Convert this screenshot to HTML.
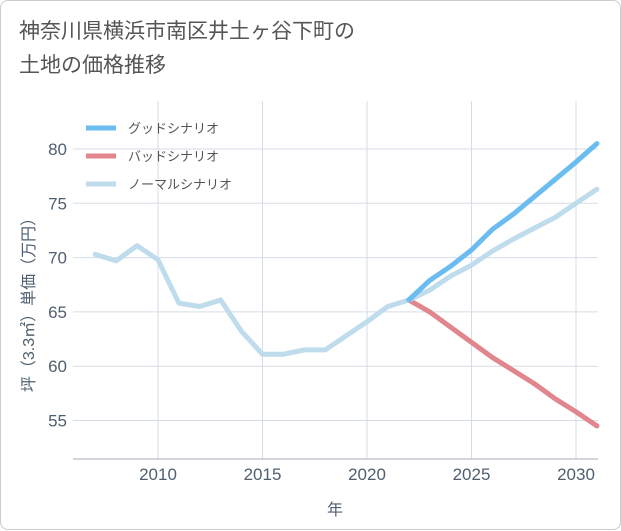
<!DOCTYPE html>
<html><head><meta charset="utf-8">
<style>
body{margin:0;background:#fff;font-family:"Liberation Sans","Noto Sans CJK JP",sans-serif;}
#card{position:absolute;left:0;top:0;width:619px;height:528px;border:1px solid #ccc;border-radius:8px;background:#fff;}
#title{position:absolute;left:18px;top:14px;font-size:21px;line-height:34px;color:#555;}
</style></head><body>
<div id="card">
<div id="title">神奈川県横浜市南区井土ヶ谷下町の<br>土地の価格推移</div>
<svg id="chart" width="621" height="530" style="position:absolute;left:0;top:0"></svg>
</div>
<script>
const years=[2007,2008,2009,2010,2011,2012,2013,2014,2015,2016,2017,2018,2019,2020,2021,2022,2023,2024,2025,2026,2027,2028,2029,2030,2031];
const normal=[70.3,69.7,71.1,69.8,65.8,65.5,66.1,63.2,61.1,61.1,61.5,61.5,62.8,64.1,65.5,66.1,67.0,68.3,69.3,70.6,71.7,72.7,73.7,75.0,76.3];
const futureYears=[2022,2023,2024,2025,2026,2027,2028,2029,2030,2031];
const good=[66.1,67.9,69.2,70.7,72.6,74.0,75.6,77.2,78.8,80.5];
const bad=[66.1,65.0,63.6,62.2,60.8,59.6,58.4,57.0,55.8,54.5];
const xTicks=[2010,2015,2020,2025,2030];
const yTicks=[55,60,65,70,75,80];
const legendLabels=['グッドシナリオ','バッドシナリオ','ノーマルシナリオ'];
const colors=['#6bbcf0','#e0868c','#bfdcec'];
const L=72,R=597,T=100,B=458;
const x=v=>157+(v-2010)*20.9;
const y=v=>148+(80-v)*10.86;
const svg=document.getElementById('chart');
const NS='http://www.w3.org/2000/svg';
function mk(t,a,p){const e=document.createElementNS(NS,t);for(const k in a)e.setAttribute(k,a[k]);(p||svg).appendChild(e);return e;}
xTicks.forEach(t=>{
 const l=mk('line',{x1:x(t),x2:x(t),y1:T,y2:B,stroke:'#d5dde6'});
 
 
 const tx=mk('text',{x:x(t),y:479,'text-anchor':'middle','font-size':17,fill:'#4f5f70'});tx.textContent=t;
 
 
});
yTicks.forEach(t=>{
 const l=mk('line',{x1:L,x2:R,y1:y(t),y2:y(t),stroke:'#d5dde6'});
 
 
 const tx=mk('text',{x:66,y:y(t)+6,'text-anchor':'end','font-size':17,fill:'#4f5f70'});tx.textContent=t;
 
 
});
const ax=mk('line',{x1:L,x2:R,y1:B,y2:B,stroke:'#aab'});


function line(xs,vs,c,name){const p=mk('polyline',{points:xs.map((v,i)=>x(v)+','+y(vs[i])).join(' '),fill:'none',stroke:c,'stroke-width':5,'stroke-linejoin':'round','stroke-linecap':'round'});
 
 }
line(futureYears,bad,colors[1],'bad-scenario-line');
line(years,normal,colors[2],'normal-scenario-line');
line(futureYears,good,colors[0],'good-scenario-line');
legendLabels.forEach((s,i)=>{
 const yy=127+i*28;
 const l=mk('line',{x1:85,x2:115,y1:yy,y2:yy,stroke:colors[i],'stroke-width':5});
 
 
 const t=mk('text',{x:127,y:yy+5,'font-size':13,fill:'#555'});t.textContent=s;
 
 
});
const xt=mk('text',{x:334,y:514,'text-anchor':'middle','font-size':16,fill:'#4f5f70'});xt.textContent='年';


const yt=mk('text',{x:0,y:0,'text-anchor':'middle','font-size':16,fill:'#4f5f70',transform:'translate(33,300) rotate(-90)'});yt.textContent='坪（3.3㎡）単価（万円）';


</script>
</body></html>
